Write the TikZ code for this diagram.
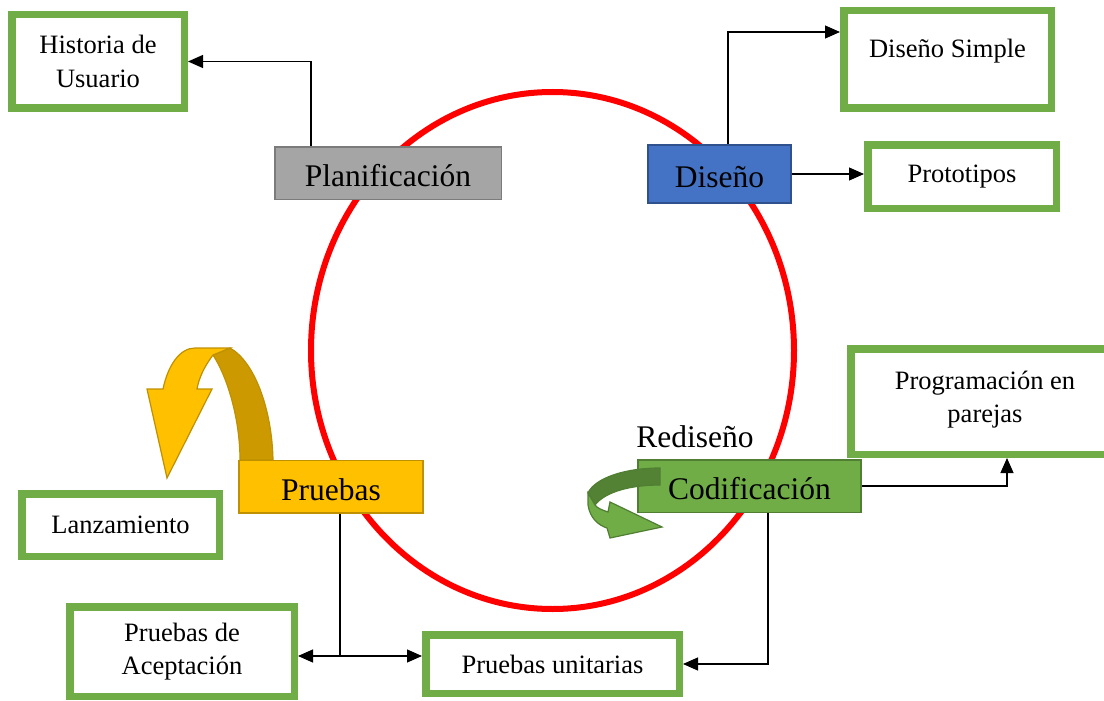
\documentclass[tikz,border=0pt]{standalone}
\usepackage{fontspec}
\setmainfont{Liberation Serif}
\usetikzlibrary{arrows.meta}
\definecolor{boxgreen}{HTML}{70AD47}
\definecolor{greenline}{HTML}{507E32}
\definecolor{greendark}{HTML}{548235}
\definecolor{planfill}{HTML}{A5A5A5}
\definecolor{planline}{HTML}{7B7B7B}
\definecolor{desfill}{HTML}{4472C4}
\definecolor{desline}{HTML}{2F528F}
\definecolor{prufill}{HTML}{FFC000}
\definecolor{pruline}{HTML}{BF9000}
\definecolor{prudark}{HTML}{CC9A00}

\begin{document}
\begin{tikzpicture}[x = 1pt, y = -1pt]
\tikzstyle{GreenBoxStyle}=[draw = boxgreen,
                           line width = 7.5pt,
                           fill = white,
                           align = center,
                           inner sep = 0pt,
                           font = \fontsize{26.5}{33.5}\selectfont]
\tikzstyle{PhaseStyle}=[line width = 1.5pt,
                        inner sep = 0pt,
                        text height = 27pt,
                        text depth = 0pt,
                        font = \fontsize{31.5}{36}\selectfont]
\tikzstyle{LinkStyle}=[line width = 1.2pt,
                       -{Triangle[length = 15pt, width = 13pt]}]
\clip (0,0) rectangle (1104,701);
\fill[white] (0,0) rectangle (1104,701);
\draw[red, line width = 6pt] (552.5,350.5) ellipse [x radius = 241.5pt, y radius = 258.5pt];
\node[GreenBoxStyle, minimum width = 172.5pt, minimum height = 93.5pt] (hist) at (98,61.5) {Historia de\\Usuario};
\node[GreenBoxStyle, minimum width = 207.5pt, minimum height = 97.5pt, text height = 20pt, text depth = 23pt] (dsimple) at (947.5,59.5) {Diseño Simple};
\node[GreenBoxStyle, minimum width = 188.5pt, minimum height = 63.5pt] (proto) at (962,176.5) {Prototipos};
\node[GreenBoxStyle, minimum width = 268.5pt, minimum height = 105.5pt] (prog) at (985,401.5) {Programación en\\parejas\\[-24pt]\mbox{}};
\node[GreenBoxStyle, minimum width = 197.5pt, minimum height = 62.5pt] (lanz) at (120.5,525) {Lanzamiento};
\node[GreenBoxStyle, minimum width = 224.5pt, minimum height = 89.5pt] (acept) at (182,651.5) {Pruebas de\\Aceptación};
\node[GreenBoxStyle, minimum width = 253.5pt, minimum height = 58.5pt] (unit) at (552.5,664) {Pruebas unitarias};
\node[PhaseStyle, draw = planline, fill = planfill, minimum width = 226.5pt, minimum height = 52.5pt] (plan) at (388,173) {Planificación};
\node[PhaseStyle, draw = desline, fill = desfill, minimum width = 143pt, minimum height = 58pt] (des) at (719.5,174) {Diseño};
\filldraw[fill = prudark, draw = pruline, line width = 1.2pt] (240,460) .. controls (240,420) and (228,378) .. (213,355) -- (230,348) .. controls (255,362) and (272,410) .. (273,460) -- cycle;
\filldraw[fill = prufill, draw = pruline, line width = 1.2pt] (213,355) .. controls (204,367) and (199,378) .. (197,389) -- (212,389) -- (167,478) -- (147,389) -- (163,389) .. controls (168,365) and (180,348) .. (195,348) -- (230,348) -- cycle;
\node[PhaseStyle, draw = pruline, fill = prufill, minimum width = 184pt, minimum height = 52.5pt] (pru) at (331,486.5) {Pruebas};
\node[PhaseStyle, draw = greenline, fill = boxgreen, minimum width = 223pt, minimum height = 52.5pt] (cod) at (749.5,486) {Codificación};
\filldraw[fill = greendark, draw = greenline, line width = 1.2pt] (660,468) .. controls (625,468) and (595,478) .. (588,493) -- (595,505) .. controls (605,492) and (630,485) .. (660,485) -- cycle;
\filldraw[fill = boxgreen, draw = greenline, line width = 1.2pt] (588,493) -- (588,505) .. controls (590,518) and (598,525) .. (607,528) -- (610,538) -- (662,527) -- (610,502) -- (608,512) .. controls (602,510) and (597,508) .. (595,505) -- cycle;
\node[font = \fontsize{31.5}{36}\selectfont, inner sep = 0pt] (redis) at (695,437) {Rediseño};
\coordinate (split) at (340,656);
\draw[LinkStyle] ([xshift = -77pt]plan.north) |- (hist.east);
\draw[LinkStyle] ([xshift = 8.5pt]des.north) |- ([yshift = 27.5pt]dsimple.west);
\draw[LinkStyle] (des.east) -- (des.east -| proto.west);
\draw[LinkStyle] (cod.east) -| ([xshift = 22pt]prog.south);
\draw[line width = 1.2pt] ([xshift = 9pt]pru.south) -- (split);
\draw[LinkStyle] (split) -- (split -| acept.east);
\draw[LinkStyle] (split) -- (split -| unit.west);
\draw[LinkStyle] ([xshift = 18.5pt]cod.south) |- (unit.east);
\end{tikzpicture}
\end{document}
